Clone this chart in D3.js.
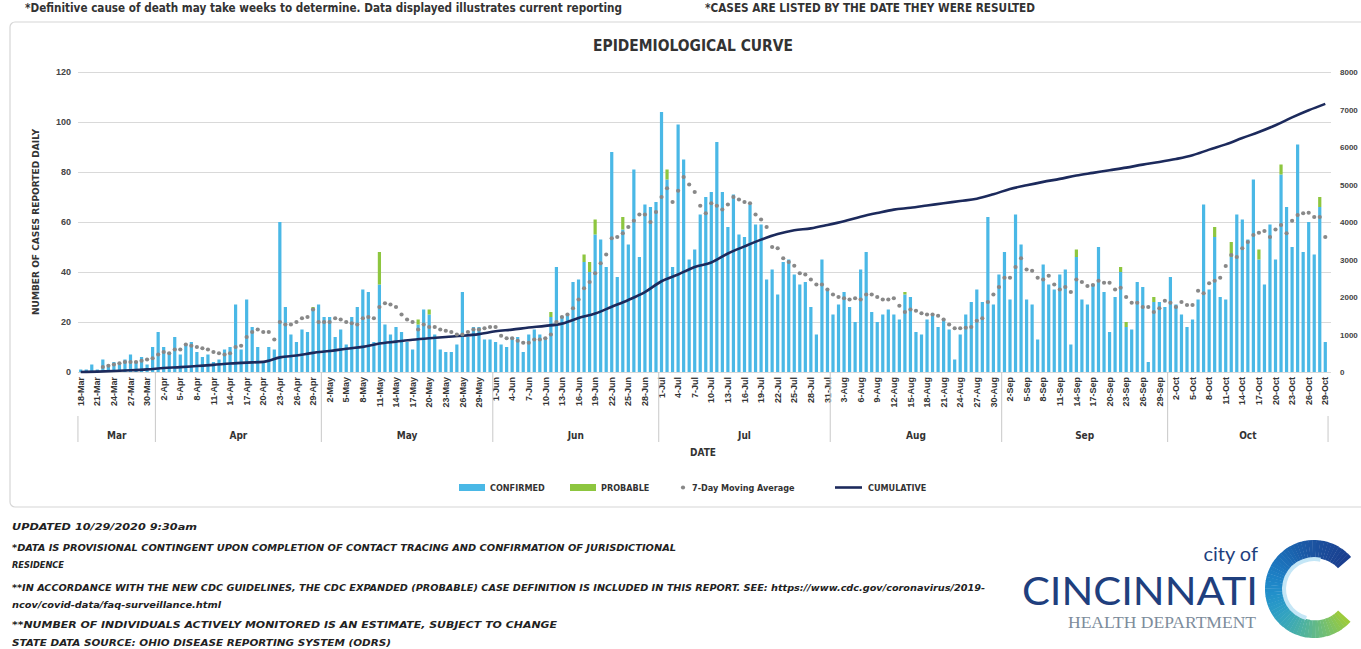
<!DOCTYPE html>
<html>
<head>
<meta charset="utf-8">
<script src="https://cdn.jsdelivr.net/npm/d3@7"></script>
<style>
  body { margin: 0; background: #fff; overflow: hidden; }
  svg { display: block; }
  text { font-family: "Liberation Sans Narrow", "DejaVu Sans Condensed", "Open Sans", sans-serif; }
</style>
</head>
<body>
<svg width="1361" height="649"></svg>
<script>
const width = 1361, height = 649;
const svg = d3.select("svg");

// --- data ---
const firstDay = new Date(2020, 2, 18), lastDay = new Date(2020, 9, 29);
const days = d3.timeDays(firstDay, d3.timeDay.offset(lastDay, 1)); // 226 days
const monthNames = ["Mar", "Apr", "May", "Jun", "Jul", "Aug", "Sep", "Oct"];

const confirmed = [
  1,1,3,1,5,2,4,3,5,7,4,6,3,10,
  16,10,8,14,7,11,12,8,6,7,4,5,9,10,27,9,29,18,10,4,10,9,60,26,15,12,17,16,25,27,
  22,22,14,17,11,22,26,33,32,12,35,19,15,18,16,12,9,19,25,23,15,9,8,8,11,32,14,18,18,13,13,
  12,11,10,14,14,8,15,17,15,14,22,42,22,23,36,37,44,40,55,53,42,88,38,57,51,81,46,67,66,68,
  104,77,42,99,85,45,49,63,70,72,92,72,58,71,55,54,67,59,59,37,41,31,44,45,39,35,36,26,15,45,33,
  23,27,32,26,20,41,48,24,20,23,25,23,21,31,30,16,15,21,23,18,21,17,5,15,23,28,33,28,62,27,39,
  48,29,63,51,29,27,13,43,35,33,39,41,11,46,29,27,35,50,32,16,30,40,18,17,36,34,4,28,28,26,
  38,27,23,18,21,29,67,33,54,30,29,46,63,61,53,77,45,35,59,45,79,66,50,91,48,60,47,66,12
];

const probable = [
  0,0,0,0,0,0,0,0,0,0,0,0,0,0,
  0,0,0,0,0,0,0,0,0,0,0,0,0,0,0,0,0,0,0,0,0,0,0,0,0,0,0,0,1,0,
  0,0,0,0,0,0,0,0,0,0,13,0,0,0,0,0,0,2,0,2,0,0,0,0,0,0,0,0,0,0,0,
  0,0,0,0,0,0,0,0,0,0,2,0,0,0,0,0,3,4,6,0,0,0,0,5,0,0,0,0,0,0,
  0,4,0,0,0,0,0,0,0,0,0,0,0,0,0,0,0,0,0,0,0,0,0,0,0,0,0,0,0,0,0,
  0,0,0,0,0,0,0,0,0,0,0,0,0,1,0,0,0,0,0,0,0,0,0,0,0,0,0,0,0,0,0,
  0,0,0,0,0,0,0,0,0,0,0,0,0,3,0,0,0,0,0,0,0,2,2,0,0,0,0,2,0,0,
  0,0,0,0,0,0,0,0,4,0,0,6,0,0,0,0,4,0,0,0,4,0,0,0,0,0,0,4,0
];

const movingAvg = [
  null,null,null,null,2,2.5,3,3.5,4,4,4,4.5,5,5.5,
  7,8,7.5,9,9,11,10.5,10,9.5,9,8,7.5,7,7.5,10,10.5,14,16,17,16,16,13,20,19,19,20,21.5,22,25,20,
  20,20,21.5,21,20,19.5,19,21.5,22,21.5,26,27.5,27,26,23,21,20,17,19,18,18,17,16.5,16,15,15,16,17,17,17.5,18,
  18,14.5,13.5,13.5,12.5,11.7,11.7,13,13,13.5,15,20,22,23,25.5,29,33.5,36,39.5,43.5,47,53.5,54,55.5,58,60.5,63,63,60,64,
  70,73.5,68,72.5,78,75,72,66.5,63.5,67.5,66.5,65,67,70,69,68,67.5,63,61,58,50,49.5,45.5,44,42.5,39.5,39,37,35,35,33,
  31,30,29.5,29,29.5,29,31,31,30,29,29,29.5,26.5,24,25,24.5,23.5,23,23,22.5,21,19,17.5,17.5,17.7,18,20.5,21.5,28,31,34,
  37.7,37.7,42,45.5,41,40.5,37.7,37,38.5,35,33,34,32,37,36,34.4,34.8,36.5,35.7,35.7,33,33.7,30,27.7,27.7,26,26,24,25.5,28.5,
  27.7,26,28,26.8,26.8,32.5,31.5,35.5,36.5,37.7,42.4,46.8,46,49.5,52,54.8,55.7,56.4,54,57,58.8,55.5,60.5,62.8,63.5,63.7,62,62,54
];

// cumulative read at every labelled date (every 3rd day)
const cumulative = [
  0,10,25,45,70,105,130,160,190,225,250,270,390,440,510,560,620,670,760,810,
  860,900,935,965,1010,1085,1130,1185,1230,1290,1440,1560,1740,1920,2130,2420,2600,2800,2920,3160,
  3350,3530,3680,3780,3830,3920,4020,4140,4240,4330,4380,4440,4500,4560,4620,4740,4880,4980,5070,5150,
  5240,5310,5380,5450,5530,5600,5680,5780,5930,6070,6240,6400,6580,6790,6980,7150
];

const leftTicks = [0, 20, 40, 60, 80, 100, 120];
const rightTicks = [0, 1000, 2000, 3000, 4000, 5000, 6000, 7000, 8000];

const footerLines = [
  ["UPDATED 10/29/2020 9:30am", 530, 185],
  ["*DATA IS PROVISIONAL CONTINGENT UPON COMPLETION OF CONTACT TRACING AND CONFIRMATION OF JURISDICTIONAL", 551, 664],
  ["RESIDENCE", 568, 52],
  ["**IN ACCORDANCE WITH THE NEW CDC GUIDELINES, THE CDC EXPANDED (PROBABLE) CASE DEFINITION IS INCLUDED IN THIS REPORT. SEE: https://www.cdc.gov/coronavirus/2019-", 591, 973],
  ["ncov/covid-data/faq-surveillance.html", 608, 209],
  ["**NUMBER OF INDIVIDUALS ACTIVELY MONITORED IS AN ESTIMATE, SUBJECT TO CHANGE", 628, 545],
  ["STATE DATA SOURCE: OHIO DISEASE REPORTING SYSTEM (ODRS)", 646, 379]
];

// --- layout ---
const plotLeft = 78, plotRight = 1328, plotTop = 72, plotBase = 372;
const blue = "#4ab8e6", green = "#8dc63f", navy = "#1c2a5c", grey = "#888";

const x = d3.scaleBand().domain(days).range([plotLeft, plotRight]).paddingInner(0.42).paddingOuter(0.2);
const y = d3.scaleLinear().domain([0, 120]).range([plotBase, plotTop]);
const y2 = d3.scaleLinear().domain([0, 8000]).range([plotBase, plotTop]);
const cx = d => x(d) + x.bandwidth() / 2;

// top notes
svg.append("text").attr("x", 25).attr("y", 12).attr("font-size", 13).attr("font-weight", "bold")
  .attr("fill", "#333").attr("textLength", 597).attr("lengthAdjust", "spacingAndGlyphs")
  .text("*Definitive cause of death may take weeks to determine. Data displayed illustrates current reporting");
svg.append("text").attr("x", 705).attr("y", 12).attr("font-size", 13).attr("font-weight", "bold")
  .attr("fill", "#333").attr("textLength", 330).attr("lengthAdjust", "spacingAndGlyphs")
  .text("*CASES ARE LISTED BY THE DATE THEY WERE RESULTED");

// chart frame
svg.append("rect").attr("x", 10).attr("y", 22).attr("width", 1370).attr("height", 485)
  .attr("rx", 5).attr("fill", "#fff").attr("stroke", "#d6d6d6").attr("stroke-width", 1.2);

svg.append("text").attr("x", 593).attr("y", 51).attr("font-size", 15).attr("font-weight", "bold")
  .attr("fill", "#333").attr("textLength", 200).attr("lengthAdjust", "spacingAndGlyphs")
  .text("EPIDEMIOLOGICAL CURVE");

// gridlines
svg.append("g")
  .attr("transform", `translate(${plotLeft},0)`)
  .call(d3.axisLeft(y).tickValues(leftTicks).tickSize(-(1331 - plotLeft)).tickFormat(""))
  .call(g => g.select(".domain").remove())
  .selectAll("line").attr("stroke", "#d9d9d9");

// left axis
svg.append("g")
  .attr("transform", `translate(${plotLeft},0)`)
  .call(d3.axisLeft(y).tickValues(leftTicks).tickSize(0).tickPadding(7))
  .call(g => g.select(".domain").remove())
  .selectAll("text")
  .attr("font-size", 9).attr("font-weight", "bold").attr("fill", "#444")
  .style("font-family", "inherit");

// right axis (cumulative)
svg.append("g")
  .attr("transform", `translate(1340,0)`)
  .call(d3.axisRight(y2).tickValues(rightTicks).tickSize(0).tickPadding(0).tickFormat(d3.format("d")))
  .call(g => g.select(".domain").remove())
  .selectAll("text")
  .attr("font-size", 8).attr("font-weight", "bold").attr("fill", "#444")
  .style("font-family", "inherit");

svg.append("text")
  .attr("transform", "translate(39,222) rotate(-90)")
  .attr("text-anchor", "middle").attr("font-size", 9.5).attr("font-weight", "bold").attr("fill", "#333")
  .attr("textLength", 186).attr("lengthAdjust", "spacingAndGlyphs")
  .text("NUMBER OF CASES REPORTED DAILY");

// bars
const rows = days.map((d, i) => ({ day: d, c: confirmed[i], p: probable[i], m: movingAvg[i] }));

svg.append("g").selectAll("rect")
  .data(rows)
  .join("rect")
  .attr("x", d => x(d.day))
  .attr("width", x.bandwidth())
  .attr("y", d => y(d.c))
  .attr("height", d => plotBase - y(d.c))
  .attr("fill", blue);

svg.append("g").selectAll("rect")
  .data(rows.filter(d => d.p > 0))
  .join("rect")
  .attr("x", d => x(d.day))
  .attr("width", x.bandwidth())
  .attr("y", d => y(d.c + d.p))
  .attr("height", d => y(d.c) - y(d.c + d.p))
  .attr("fill", green);

// cumulative line
const cumPoints = cumulative.map((v, k) => ({ day: days[k * 3], v }));
svg.append("path")
  .datum(cumPoints)
  .attr("fill", "none")
  .attr("stroke", navy)
  .attr("stroke-width", 2.6)
  .attr("stroke-linejoin", "round")
  .attr("d", d3.line().x(d => cx(d.day)).y(d => y2(d.v)).curve(d3.curveMonotoneX));

// moving average markers
svg.append("g").selectAll("circle")
  .data(rows.filter(d => d.m != null))
  .join("circle")
  .attr("cx", d => cx(d.day))
  .attr("cy", d => y(d.m))
  .attr("r", 2.1)
  .attr("fill", grey);

// x axis: every third day
const xAxis = svg.append("g")
  .attr("transform", `translate(0,${plotBase})`)
  .call(d3.axisBottom(x)
    .tickValues(days.filter((d, i) => i % 3 === 0))
    .tickFormat(d3.timeFormat("%-d-%b"))
    .tickSize(0));
xAxis.select(".domain").remove();
xAxis.selectAll("text")
  .attr("transform", "rotate(-90)")
  .attr("text-anchor", "end")
  .attr("x", -5).attr("y", 0).attr("dy", "0.35em")
  .attr("font-size", 9).attr("font-weight", "bold").attr("fill", "#333")
  .style("font-family", "inherit");

// month groups
const monthGroups = d3.groups(days, d => d.getMonth());
const half = (x.step() - x.bandwidth()) / 2;
const sep = svg.append("g").attr("stroke", "#c8c8c8").attr("stroke-width", 1);
monthGroups.forEach(([m, ds], k) => {
  const x0 = x(ds[0]) - half, x1 = x(ds[ds.length - 1]) + x.bandwidth() + half;
  if (k > 0) sep.append("line").attr("x1", x0).attr("x2", x0).attr("y1", plotBase).attr("y2", 442);
  else sep.append("line").attr("x1", x0).attr("x2", x0).attr("y1", 416).attr("y2", 442);
  if (k === monthGroups.length - 1)
    sep.append("line").attr("x1", x1).attr("x2", x1).attr("y1", 416).attr("y2", 442);
  svg.append("text")
    .attr("x", (x0 + x1) / 2).attr("y", 439)
    .attr("text-anchor", "middle").attr("font-size", 10).attr("font-weight", "bold").attr("fill", "#333")
    .text(monthNames[k]);
});

svg.append("text").attr("x", 703).attr("y", 456).attr("text-anchor", "middle")
  .attr("font-size", 10).attr("font-weight", "bold").attr("fill", "#333").text("DATE");

// legend
const lg = svg.append("g").attr("font-size", 9).attr("font-weight", "bold").attr("fill", "#333");
lg.append("rect").attr("x", 459).attr("y", 484).attr("width", 26).attr("height", 7).attr("fill", blue);
lg.append("text").attr("x", 490).attr("y", 490.5).text("CONFIRMED");
lg.append("rect").attr("x", 570).attr("y", 484).attr("width", 26).attr("height", 7).attr("fill", green);
lg.append("text").attr("x", 601).attr("y", 490.5).text("PROBABLE");
lg.append("circle").attr("cx", 683).attr("cy", 487.5).attr("r", 2.1).attr("fill", grey);
lg.append("text").attr("x", 692).attr("y", 490.5).text("7-Day Moving Average");
lg.append("line").attr("x1", 835).attr("x2", 862).attr("y1", 487.5).attr("y2", 487.5)
  .attr("stroke", navy).attr("stroke-width", 2.6);
lg.append("text").attr("x", 868).attr("y", 490.5).text("CUMULATIVE");

// footer notes
svg.append("g").selectAll("text")
  .data(footerLines)
  .join("text")
  .attr("x", 12).attr("y", d => d[1])
  .attr("font-size", 9.5).attr("font-weight", "bold").attr("font-style", "italic").attr("fill", "#222")
  .attr("textLength", d => d[2]).attr("lengthAdjust", "spacingAndGlyphs")
  .text(d => d[0]);

// logo
const logo = svg.append("g");
logo.append("text").attr("x", 1258).attr("y", 561).attr("text-anchor", "end")
  .attr("font-size", 20).attr("fill", "#1f3f7e").style("font-family", "Lato, 'Open Sans', sans-serif")
  .text("city of");
logo.append("text").attr("x", 1022).attr("y", 605)
  .attr("font-size", 38).attr("fill", "#1f3f7e").style("font-family", "Lato, 'Open Sans', sans-serif")
  .attr("textLength", 236).attr("lengthAdjust", "spacingAndGlyphs")
  .text("CINCINNATI");
logo.append("text").attr("x", 1068).attr("y", 628)
  .attr("font-size", 16).attr("fill", "#7d8c9b").style("font-family", "'Liberation Serif', serif")
  .attr("textLength", 188).attr("lengthAdjust", "spacingAndGlyphs")
  .text("HEALTH DEPARTMENT");

const ring = logo.append("g").attr("transform", "translate(1314,589)");
const swirl = d3.interpolateRgbBasis(["#9ccb3b", "#3fb0b8", "#1a8fd6", "#1c5aa6", "#1b3f8f"]);
const segs = d3.range(60);
const a0 = 2.3, a1 = 2 * Math.PI + 0.85;
ring.selectAll("path.c")
  .data(segs)
  .join("path")
  .attr("class", "c")
  .attr("fill", k => swirl(k / 59))
  .attr("d", k => d3.arc()
    .innerRadius(29 + 6 * Math.abs(k / 59 - 0.55))
    .outerRadius(49)
    .startAngle(a0 + (a1 - a0) * k / 60)
    .endAngle(a0 + (a1 - a0) * (k + 1.1) / 60)());
ring.append("path")
  .attr("fill", "#c4e6f6")
  .attr("d", d3.arc().innerRadius(28).outerRadius(32).startAngle(3.4).endAngle(6.5)());
</script>
</body>
</html>
